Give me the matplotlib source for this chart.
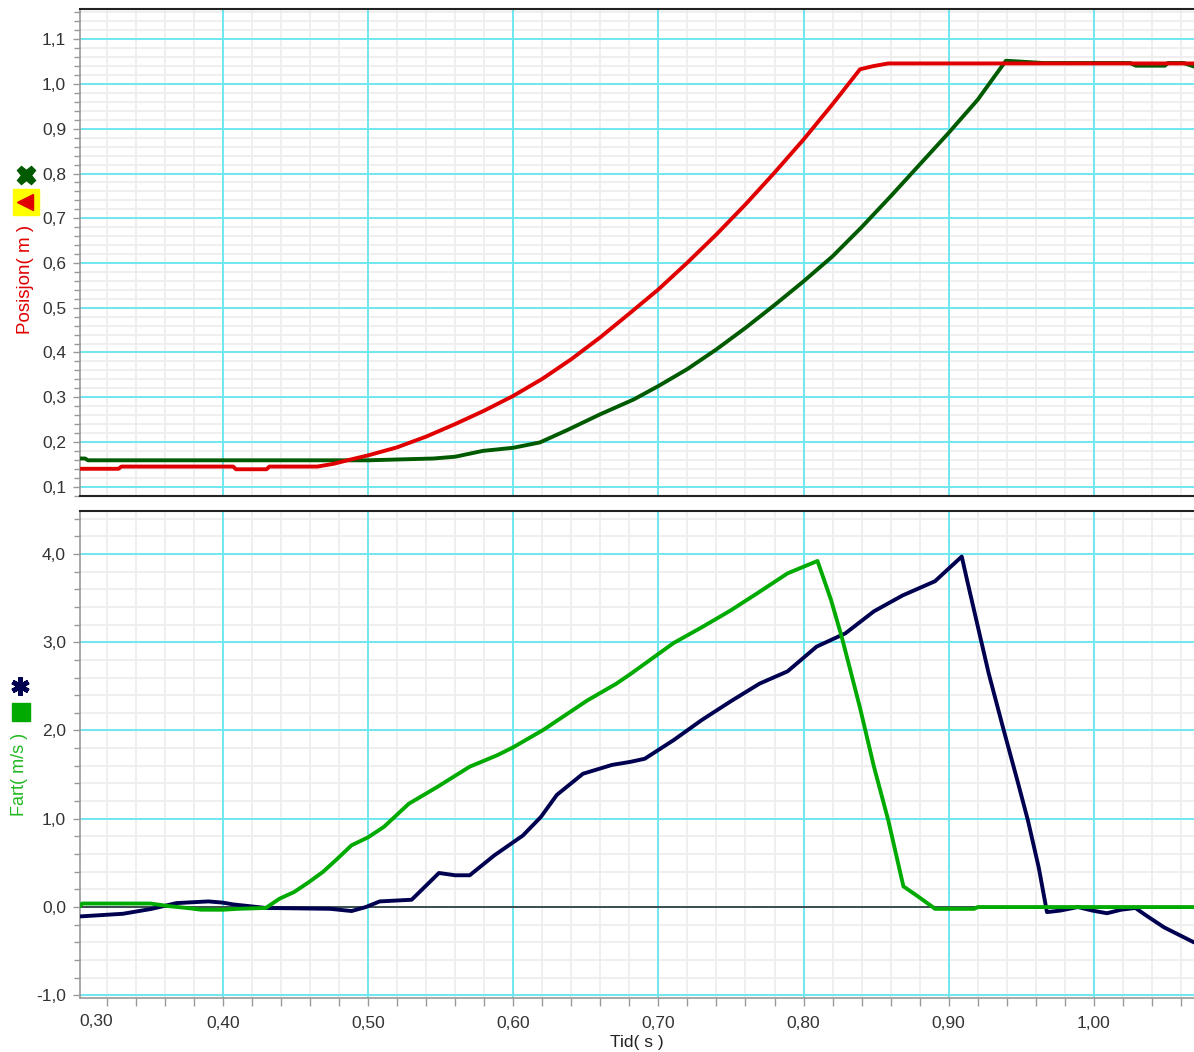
import matplotlib
matplotlib.use("Agg")
import numpy as np
import matplotlib.pyplot as plt
from matplotlib.lines import Line2D
from matplotlib.ticker import MultipleLocator, FuncFormatter, FixedLocator

plt.rcParams['font.family'] = ['Liberation Sans', 'DejaVu Sans']

# ---------------- data ----------------
pos_red_t = [0.3015, 0.328, 0.330, 0.407, 0.409, 0.430, 0.432, 0.465, 0.476, 0.487,
             0.500, 0.520, 0.540, 0.560, 0.580, 0.600, 0.620, 0.640, 0.660, 0.680,
             0.700, 0.720, 0.740, 0.760, 0.780, 0.800, 0.820,
             0.8389, 0.848, 0.8583, 1.069]
pos_red_v = [0.140, 0.140, 0.145, 0.145, 0.139, 0.139, 0.145, 0.145, 0.151, 0.160,
             0.170, 0.188, 0.212, 0.240, 0.270, 0.303, 0.341, 0.385, 0.434, 0.487,
             0.541, 0.601, 0.664, 0.731, 0.802, 0.876, 0.955,
             1.033, 1.040, 1.046, 1.046]

pos_dk_t = [0.3015, 0.305, 0.307, 0.500, 0.545, 0.560, 0.579, 0.600, 0.6184, 0.6368,
            0.660, 0.683, 0.700, 0.720, 0.740, 0.760, 0.780, 0.800, 0.820,
            0.840, 0.860, 0.880, 0.900, 0.920, 0.930, 0.9394, 0.950, 0.965, 1.025,
            1.029, 1.049, 1.051, 1.062, 1.069]
pos_dk_v = [0.163, 0.163, 0.159, 0.159, 0.163, 0.167, 0.180, 0.187, 0.199, 0.226,
            0.262, 0.295, 0.325, 0.363, 0.407, 0.455, 0.506, 0.559, 0.615,
            0.680, 0.749, 0.820, 0.891, 0.965, 1.010, 1.052, 1.050, 1.047, 1.047,
            1.041, 1.041, 1.047, 1.047, 1.039]

vel_grn_t = [0.3015, 0.303, 0.350, 0.363, 0.375, 0.385, 0.400, 0.410, 0.4295, 0.439,
             0.449, 0.459, 0.469, 0.479, 0.4886, 0.500, 0.511, 0.528, 0.5476, 0.570,
             0.589, 0.600, 0.621, 0.651, 0.671, 0.6808, 0.7104, 0.730, 0.7498, 0.7696,
             0.789, 0.8096, 0.8189, 0.8263, 0.8387, 0.8485, 0.8584, 0.8688, 0.878,
             0.889, 0.8905, 0.9176, 0.920, 1.069]
vel_grn_v = [0.01, 0.04, 0.04, 0.01, -0.01, -0.03, -0.03, -0.02, -0.01, 0.095,
             0.17, 0.28, 0.40, 0.55, 0.70, 0.79, 0.91, 1.17, 1.36, 1.59,
             1.72, 1.81, 2.01, 2.34, 2.53, 2.64, 2.99, 3.17, 3.36, 3.57,
             3.78, 3.92, 3.48, 3.06, 2.27, 1.59, 0.98, 0.234, 0.13,
             0.0, -0.02, -0.02, 0.0, 0.0]

vel_nav_t = [0.3015, 0.3311, 0.351, 0.368, 0.390, 0.400, 0.407, 0.4295, 0.474, 0.4886,
             0.4984, 0.508, 0.530, 0.5488, 0.560, 0.570, 0.587, 0.6066, 0.619, 0.630,
             0.648, 0.668, 0.6808, 0.6906, 0.7104, 0.730, 0.7498, 0.7696, 0.789, 0.809,
             0.8288, 0.8485, 0.8683, 0.8905, 0.909, 0.9127, 0.9275, 0.9373, 0.9472,
             0.9546, 0.962, 0.9677, 0.9768, 0.989, 0.999, 1.009, 1.0188, 1.0286, 1.036,
             1.0484, 1.069]
vel_nav_v = [-0.106, -0.076, -0.02, 0.045, 0.064, 0.05, 0.03, -0.01, -0.02, -0.045,
             0.0, 0.064, 0.083, 0.386, 0.36, 0.36, 0.586, 0.81, 1.02, 1.27,
             1.51, 1.61, 1.645, 1.68, 1.89, 2.12, 2.33, 2.53, 2.67, 2.95,
             3.10, 3.35, 3.53, 3.69, 3.97, 3.70, 2.65, 2.04, 1.44,
             0.98, 0.45, -0.057, -0.04, 0.0, -0.04, -0.07, -0.03, -0.01, -0.095,
             -0.23, -0.40]

x_major = [0.40, 0.50, 0.60, 0.70, 0.80, 0.90, 1.00]
x_first_label = "0,30"
ylabel_top = "Posisjon( m )"
ylabel_bot = "Fart( m/s )"
xlabel = "Tid( s )"

# ---------------- figure ----------------
W, H = 1194, 1052
fig = plt.figure(figsize=(W / 100, H / 100), dpi=100)
fig.patch.set_facecolor('white')

L = 80 / W
ax1 = fig.add_axes([L, 1 - 496 / H, 1 - L, (496 - 9) / H])
ax2 = fig.add_axes([L, 1 - 998 / H, 1 - L, (998 - 511) / H])

CYAN = '#70e6ef'
MINOR = '#eeeeee'
TICKC = '#333333'
LW = 2.8


def comma(fmt):
    return FuncFormatter(lambda v, p: fmt.format(v).replace('.', ','))


def draw_grid(ax, xstep_minor, xmaj, ystep_minor, ystep_major, ylo, yhi):
    xs = np.arange(0.30, 1.08, xstep_minor)
    for x in xs:
        if not any(abs(x - m) < 1e-6 for m in xmaj):
            ax.axvline(x, color=MINOR, lw=1.3, zorder=0.5)
    ys = np.arange(np.ceil(ylo / ystep_minor) * ystep_minor, yhi, ystep_minor)
    for y in ys:
        r = y / ystep_major
        if abs(r - round(r)) > 1e-6:
            ax.axhline(y, color=MINOR, lw=1.3, zorder=0.5)
    for x in xmaj:
        ax.axvline(x, color=CYAN, lw=1.4, zorder=0.7)
    yM = np.arange(np.ceil(ylo / ystep_major) * ystep_major, yhi, ystep_major)
    for y in yM:
        ax.axhline(y, color=CYAN, lw=1.4, zorder=0.7)


for ax in (ax1, ax2):
    ax.set_xlim(0.3015, 1.069)
    ax.xaxis.set_major_locator(FixedLocator(x_major))
    ax.xaxis.set_minor_locator(MultipleLocator(0.02))
    ax.spines['right'].set_visible(False)
    ax.spines['top'].set_color('#222222')
    ax.spines['top'].set_linewidth(1.5)
    ax.spines['left'].set_color('#999999')
    ax.spines['left'].set_linewidth(1.2)
    ax.tick_params(axis='y', which='both', colors='#999999', labelcolor=TICKC,
                   labelsize=12.5, length=5, width=1, pad=5)
    ax.tick_params(axis='y', which='minor', length=4)

# top panel
ax1.set_ylim(0.0792, 1.1677)
ax1.yaxis.set_major_locator(MultipleLocator(0.1))
ax1.yaxis.set_minor_locator(MultipleLocator(0.02))
ax1.yaxis.set_major_formatter(comma("{:.1f}"))
ax1.spines['bottom'].set_color('#222222')
ax1.spines['bottom'].set_linewidth(1.5)
ax1.tick_params(axis='x', which='both', length=0, labelbottom=False)
draw_grid(ax1, 0.02, x_major, 0.02, 0.1, 0.0792, 1.1677)

ax1.plot(pos_red_t, pos_red_v, color='#e00000', lw=LW, zorder=4,
         solid_joinstyle='round', solid_capstyle='round')
ax1.plot(pos_dk_t, pos_dk_v, color='#005a00', lw=LW, zorder=3,
         solid_joinstyle='round', solid_capstyle='round')

# bottom panel
ax2.set_ylim(-1.03, 4.486)
ax2.yaxis.set_major_locator(MultipleLocator(1.0))
ax2.yaxis.set_minor_locator(MultipleLocator(0.2))
ax2.yaxis.set_major_formatter(comma("{:.1f}"))
ax2.xaxis.set_major_formatter(comma("{:.2f}"))
ax2.spines['bottom'].set_color('#999999')
ax2.spines['bottom'].set_linewidth(1.2)
ax2.tick_params(axis='x', which='both', colors='#999999', labelcolor=TICKC,
                labelsize=12.5, length=6, width=1, pad=7)
draw_grid(ax2, 0.02, x_major, 0.2, 1.0, -1.03, 4.486)
ax2.axhline(0, color='#333333', lw=1.2, zorder=2)

ax2.plot(vel_grn_t, vel_grn_v, color='#00aa00', lw=LW, zorder=4,
         solid_joinstyle='round', solid_capstyle='round')
ax2.plot(vel_nav_t, vel_nav_v, color='#000050', lw=LW, zorder=3,
         solid_joinstyle='round', solid_capstyle='round')

ax2.annotate(x_first_label, xy=(0.3126, 0), xycoords=('data', 'axes fraction'),
             xytext=(0, -16), textcoords='offset pixels', ha='center', va='top',
             fontsize=12.5, color=TICKC, annotation_clip=False)

# axis titles
fig.text(637 / W, 1 - 1043 / H, xlabel, ha='center', va='center',
         fontsize=12.5, color='#222222')
fig.text(25 / W, 1 - 279 / H, ylabel_top, ha='center', va='center',
         rotation=90, fontsize=13.5, color='#e00000')
fig.text(19 / W, 1 - 774 / H, ylabel_bot, ha='center', va='center',
         rotation=90, fontsize=13, color='#22b822')

# legend symbols
def sym(x, y, **kw):
    fig.add_artist(Line2D([x / W], [1 - y / H], transform=fig.transFigure,
                          linestyle='none', **kw))

sym(26, 175, marker='X', ms=13, color='#005a00', mec='#005a00')
sym(26, 202, marker='s', ms=19, color='#ffff00', mec='#ffff00')
sym(25, 202, marker='<', ms=12, color='#e00000', mec='#e00000')
sym(20, 686, marker=(6, 2, 0), ms=13, mew=3.4, color='#000050', mec='#000050')
sym(21, 712, marker='s', ms=13, color='#00aa00', mec='#00aa00')

fig.savefig('out.png', dpi=100, facecolor='white')
